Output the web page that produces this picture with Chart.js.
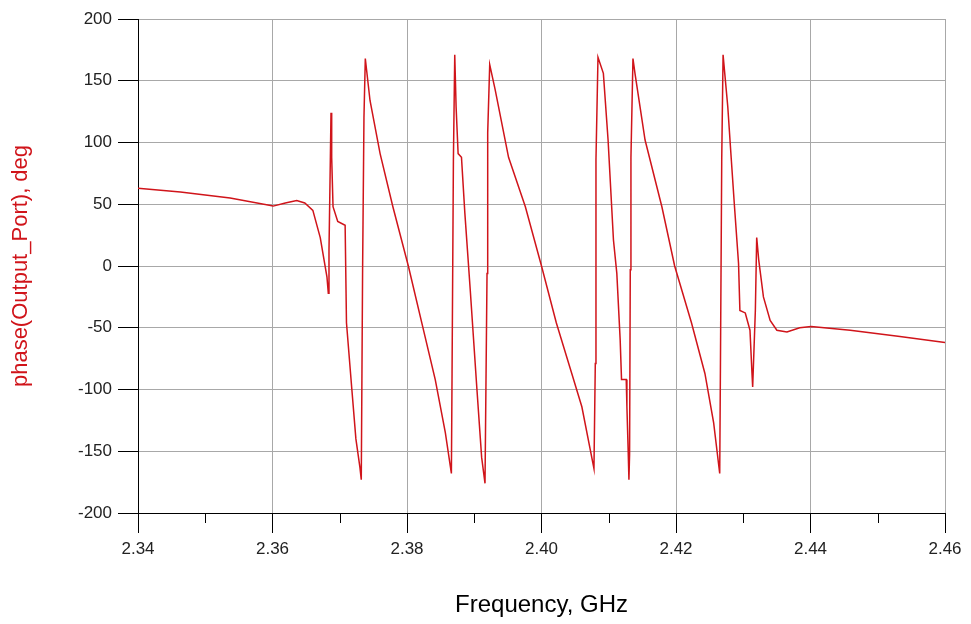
<!DOCTYPE html>
<html>
<head>
<meta charset="utf-8">
<script src="https://cdn.jsdelivr.net/npm/chart.js@4"></script>
<style>
  html, body { margin: 0; padding: 0; background: #fff; }
  #wrap { width: 971px; height: 624px; }
</style>
</head>
<body>
<div id="wrap"><canvas id="myChart" width="971" height="624"></canvas></div>
<script>
// frequency (GHz) and phase (deg)
const freq = [
  2.3400, 2.3463, 2.3537, 2.3601, 2.3619, 2.3636, 2.3648, 2.3660, 2.3671, 2.3681,
  2.3683, 2.3684, 2.3686, 2.3687, 2.3688, 2.3690, 2.3697, 2.3708, 2.3710, 2.3718,
  2.3724, 2.3730, 2.3732, 2.3734, 2.3736, 2.3738, 2.3745, 2.3760, 2.3779, 2.3802,
  2.3822, 2.3842, 2.3857, 2.3866, 2.3867, 2.3869, 2.3871, 2.3873, 2.3876, 2.3881,
  2.3886, 2.3894, 2.3904, 2.3911, 2.3916, 2.3919, 2.3920, 2.3923, 2.3931, 2.3951,
  2.3976, 2.4000, 2.4022, 2.4045, 2.4060, 2.4078, 2.4080, 2.4081, 2.4084, 2.4092,
  2.4099, 2.4107, 2.4112, 2.4117, 2.4119, 2.4126, 2.4127, 2.4129, 2.4130, 2.4131,
  2.4132, 2.4133, 2.4136, 2.4139, 2.4154, 2.4179, 2.4198, 2.4223, 2.4243, 2.4256,
  2.4265, 2.4266, 2.4268, 2.4270, 2.4277, 2.4282, 2.4287, 2.4293, 2.4295, 2.4303,
  2.4310, 2.4313, 2.4314, 2.4318, 2.4320, 2.4323, 2.4330, 2.4340, 2.4350, 2.4365,
  2.4384, 2.4401, 2.4459, 2.4533, 2.4600
];
const phase = [
  63, 60, 55, 48.5, 51, 53, 51, 45, 23, -9,
  -22, 13, 86, 124, 88, 48, 36, 33, -46, -100,
  -140, -163, -173, -1, 120, 168, 134, 91, 48, 0,
  -46, -92, -135, -168, -87, 86, 171, 129, 91, 88,
  43, -19, -100, -155, -176, -6, 108, 163, 143, 88,
  48, 0, -46, -87, -114, -164, -79, 86, 169, 156,
  102, 21, -6, -60, -92, -92, -114, -152, -173, -152,
  -3, 88, 168, 156, 102, 48, 0, -46, -87, -127,
  -168, -87, 86, 171, 129, 88, 48, 2, -36, -38,
  -52, -87, -98, -36, 23, 5, -25, -44, -52, -53.5,
  -50, -49, -52, -57, -62
];
const minorTicks = [2.35, 2.37, 2.39, 2.41, 2.43, 2.45];

const points = freq.map((f, i) => ({ x: f, y: phase[i] }));

// short ticks between the labelled ones on the frequency axis
const minorTickPlugin = {
  id: "minorTicks",
  afterDraw(chart) {
    const xs = chart.scales.x;
    const ctx = chart.ctx;
    const bottom = chart.chartArea.bottom;
    ctx.save();
    ctx.strokeStyle = "#000";
    ctx.lineWidth = 1;
    minorTicks.forEach(function (v) {
      const px = Math.round(xs.getPixelForValue(v)) + 0.5;
      ctx.beginPath();
      ctx.moveTo(px, bottom);
      ctx.lineTo(px, bottom + 10);
      ctx.stroke();
    });
    ctx.restore();
  },
};

var ctx = document.getElementById("myChart").getContext("2d");
var myChart = new Chart(ctx, {
  type: "scatter",
  data: {
    datasets: [
      {
        label: "phase(Output_Port)",
        data: points,
        showLine: true,
        borderColor: "#d0141a",
        borderWidth: 1.5,
        pointRadius: 0,
        tension: 0,
      },
    ],
  },
  options: {
    responsive: false,
    animation: false,
    layout: { padding: { top: 19, right: 26, left: 4, bottom: 0 } },
    plugins: {
      legend: { display: false },
      tooltip: { enabled: false },
    },
    scales: {
      x: {
        type: "linear",
        min: 2.34,
        max: 2.46,
        afterFit: function (scale) { scale.height = 111; },
        ticks: {
          stepSize: 0.02,
          callback: (v) => v.toFixed(2),
          font: { family: "Liberation Sans", size: 17 },
          color: "#222",
          padding: 6,
          maxRotation: 0,
        },
        grid: { color: "#a8a8a8", tickColor: "#000", tickLength: 20 },
        border: { color: "#000", width: 1 },
        title: {
          display: true,
          text: "Frequency, GHz",
          font: { family: "Liberation Sans", size: 24 },
          color: "#000",
          padding: { top: 22 },
        },
      },
      y: {
        min: -200,
        max: 200,
        afterFit: function (scale) { scale.width = 134; },
        ticks: {
          stepSize: 50,
          font: { family: "Liberation Sans", size: 17 },
          color: "#222",
          padding: 6,
        },
        grid: { color: "#a8a8a8", tickColor: "#000", tickLength: 20 },
        border: { color: "#000", width: 1 },
        title: {
          display: true,
          text: "phase(Output_Port), deg",
          font: { family: "Liberation Sans", size: 22 },
          color: "#d0141a",
          padding: { bottom: 8 },
        },
      },
    },
  },
  plugins: [minorTickPlugin],
});
</script>
</body>
</html>
